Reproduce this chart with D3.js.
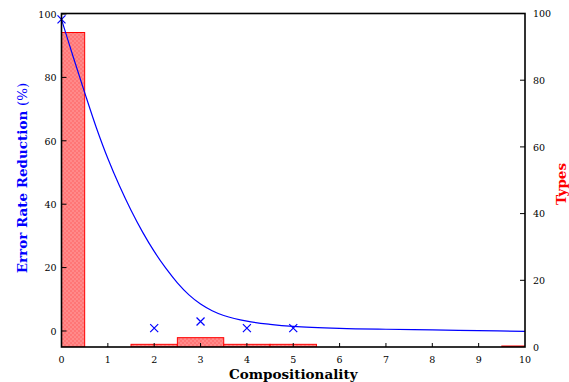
<!DOCTYPE html>
<html lang="en">
<head>
    <meta charset="UTF-8">
    <title>Compositionality</title>
    <script src="https://d3js.org/d3.v7.min.js"></script>
    <style>
        body { margin: 0; background: #fff; }
        svg { display: block; }
        .tick-label { font-family: "DejaVu Serif", serif; font-size: 9.5px; fill: #000; }
        .axis-title { font-family: "DejaVu Serif", serif; font-size: 13.5px; font-weight: bold; }
    </style>
</head>
<body>

<div id="chart"></div>

<script>
    // Types histogram (right axis, %)
    let typeBins = [0, 1, 2, 3, 4, 5, 6, 7, 8, 9, 10];
    let typeValues = [94.3, 0, 0.8, 2.8, 0.8, 0.8, 0, 0, 0, 0, 0.3];

    // measured error rate reduction (left axis, %)
    let pointX = [0, 2, 3, 4, 5];
    let pointY = [98.3, 0.9, 3.0, 0.9, 0.9];

    // fitted curve
    let curveX = [0, 0.25, 0.5, 0.75, 1, 1.25, 1.5, 1.75, 2, 2.25, 2.5, 2.75, 3, 3.25, 3.5, 4, 4.5, 5, 6, 7, 8, 9, 10];
    let curveY = [98.3, 86.6, 75.2, 64.2, 54.4, 45.8, 38.1, 31.2, 25.1, 19.8, 15.2, 11.4, 8.5, 6.4, 4.9, 3.1, 2.1, 1.45, 0.85, 0.55, 0.35, 0.12, -0.1];

    let xTicks = [0, 1, 2, 3, 4, 5, 6, 7, 8, 9, 10];
    let leftTicks = [0, 20, 40, 60, 80, 100];
    let rightTicks = [0, 20, 40, 60, 80, 100];

    let W = 569, H = 382;
    let margin = {top: 13.5, right: 44, bottom: 35, left: 61.5},
        width = W - margin.left - margin.right,
        height = H - margin.top - margin.bottom;

    let svg = d3.select("#chart").append("svg")
        .attr("width", W)
        .attr("height", H);

    let x = d3.scaleLinear().domain([0, 10]).range([margin.left, margin.left + width]);
    let yL = d3.scaleLinear().domain([-5.05, 100]).range([margin.top + height, margin.top + 0.5]);
    let yR = d3.scaleLinear().domain([0, 100]).range([margin.top + height, margin.top]);

    let defs = svg.append("defs");
    defs.append("clipPath").attr("id", "plot-clip")
        .append("rect")
        .attr("x", margin.left).attr("y", margin.top)
        .attr("width", width).attr("height", height);

    // checker fill of the bars
    let pat = defs.append("pattern")
        .attr("id", "hatch")
        .attr("width", 4).attr("height", 4)
        .attr("patternUnits", "userSpaceOnUse");
    pat.append("rect").attr("width", 4).attr("height", 4).attr("fill", "#ff8a8a");
    pat.append("rect").attr("width", 2).attr("height", 2).attr("fill", "#ff7676");
    pat.append("rect").attr("x", 2).attr("y", 2).attr("width", 2).attr("height", 2).attr("fill", "#ff7676");

    let plot = svg.append("g").attr("clip-path", "url(#plot-clip)");

    let bars = typeBins.map((b, i) => ({bin: b, value: typeValues[i]})).filter(d => d.value > 0);

    plot.selectAll("rect.bar")
        .data(bars)
        .enter()
        .append("rect")
        .attr("class", "bar")
        .attr("x", d => x(d.bin - 0.5))
        .attr("y", d => yR(d.value))
        .attr("width", d => x(d.bin + 0.5) - x(d.bin - 0.5))
        .attr("height", d => yR(0) - yR(d.value))
        .attr("fill", "url(#hatch)")
        .attr("stroke", "#ff0000")
        .attr("stroke-width", 1);

    let line = d3.line()
        .x(d => x(d[0]))
        .y(d => yL(d[1]))
        .curve(d3.curveCatmullRom.alpha(0.5));

    plot.append("path")
        .datum(curveX.map((v, i) => [v, curveY[i]]))
        .attr("d", line)
        .attr("fill", "none")
        .attr("stroke", "#0000ff")
        .attr("stroke-width", 1.2);

    // cross markers
    let s = 4;
    svg.selectAll("path.mark")
        .data(pointX.map((v, i) => [v, pointY[i]]))
        .enter()
        .append("path")
        .attr("class", "mark")
        .attr("d", d => {
            let cx = x(d[0]), cy = yL(d[1]);
            return `M${cx - s},${cy - s}L${cx + s},${cy + s}M${cx - s},${cy + s}L${cx + s},${cy - s}`;
        })
        .attr("stroke", "#0000ff")
        .attr("stroke-width", 1.2)
        .attr("fill", "none");

    // ticks (pointing inward)
    let axes = svg.append("g").attr("stroke", "#000").attr("stroke-width", 1);
    let tl = 5;

    axes.selectAll("line.xt")
        .data(xTicks.slice(1, -1))
        .enter()
        .append("line")
        .attr("x1", d => x(d)).attr("x2", d => x(d))
        .attr("y1", margin.top + height).attr("y2", margin.top + height - 4);

    axes.selectAll("line.lt")
        .data(leftTicks)
        .enter()
        .append("line")
        .attr("x1", margin.left).attr("x2", margin.left + tl)
        .attr("y1", d => yL(d)).attr("y2", d => yL(d));

    axes.selectAll("line.rt")
        .data(rightTicks.slice(1, -1))
        .enter()
        .append("line")
        .attr("x1", margin.left + width).attr("x2", margin.left + width - tl)
        .attr("y1", d => yR(d)).attr("y2", d => yR(d));

    // frame
    svg.append("rect")
        .attr("x", margin.left).attr("y", margin.top)
        .attr("width", width).attr("height", height)
        .attr("fill", "none")
        .attr("stroke", "#000")
        .attr("stroke-width", 1.6);

    // tick labels
    svg.selectAll("text.xl")
        .data(xTicks)
        .enter()
        .append("text")
        .attr("class", "tick-label")
        .attr("x", d => x(d))
        .attr("y", margin.top + height + 16)
        .attr("text-anchor", "middle")
        .text(d => d);

    svg.selectAll("text.ll")
        .data(leftTicks)
        .enter()
        .append("text")
        .attr("class", "tick-label")
        .attr("x", margin.left - 5)
        .attr("y", d => yL(d))
        .attr("dy", "0.4em")
        .attr("text-anchor", "end")
        .text(d => d);

    svg.selectAll("text.rl")
        .data(rightTicks)
        .enter()
        .append("text")
        .attr("class", "tick-label")
        .attr("x", margin.left + width + 8)
        .attr("y", d => yR(d))
        .attr("dy", "0.4em")
        .text(d => d);

    // axis titles
    svg.append("text")
        .attr("class", "axis-title")
        .attr("x", x(5))
        .attr("y", 379)
        .attr("text-anchor", "middle")
        .attr("fill", "#000")
        .text("Compositionality");

    let lt = svg.append("text")
        .attr("class", "axis-title")
        .attr("transform", `translate(27,178) rotate(-90)`)
        .attr("text-anchor", "middle")
        .attr("fill", "#0000ff");
    lt.append("tspan").text("Error Rate Reduction ");
    lt.append("tspan").attr("font-weight", "normal").text("(%)");

    svg.append("text")
        .attr("class", "axis-title")
        .attr("transform", `translate(566,184) rotate(-90)`)
        .attr("text-anchor", "middle")
        .attr("fill", "#ff0000")
        .text("Types");
</script>

</body>
</html>
